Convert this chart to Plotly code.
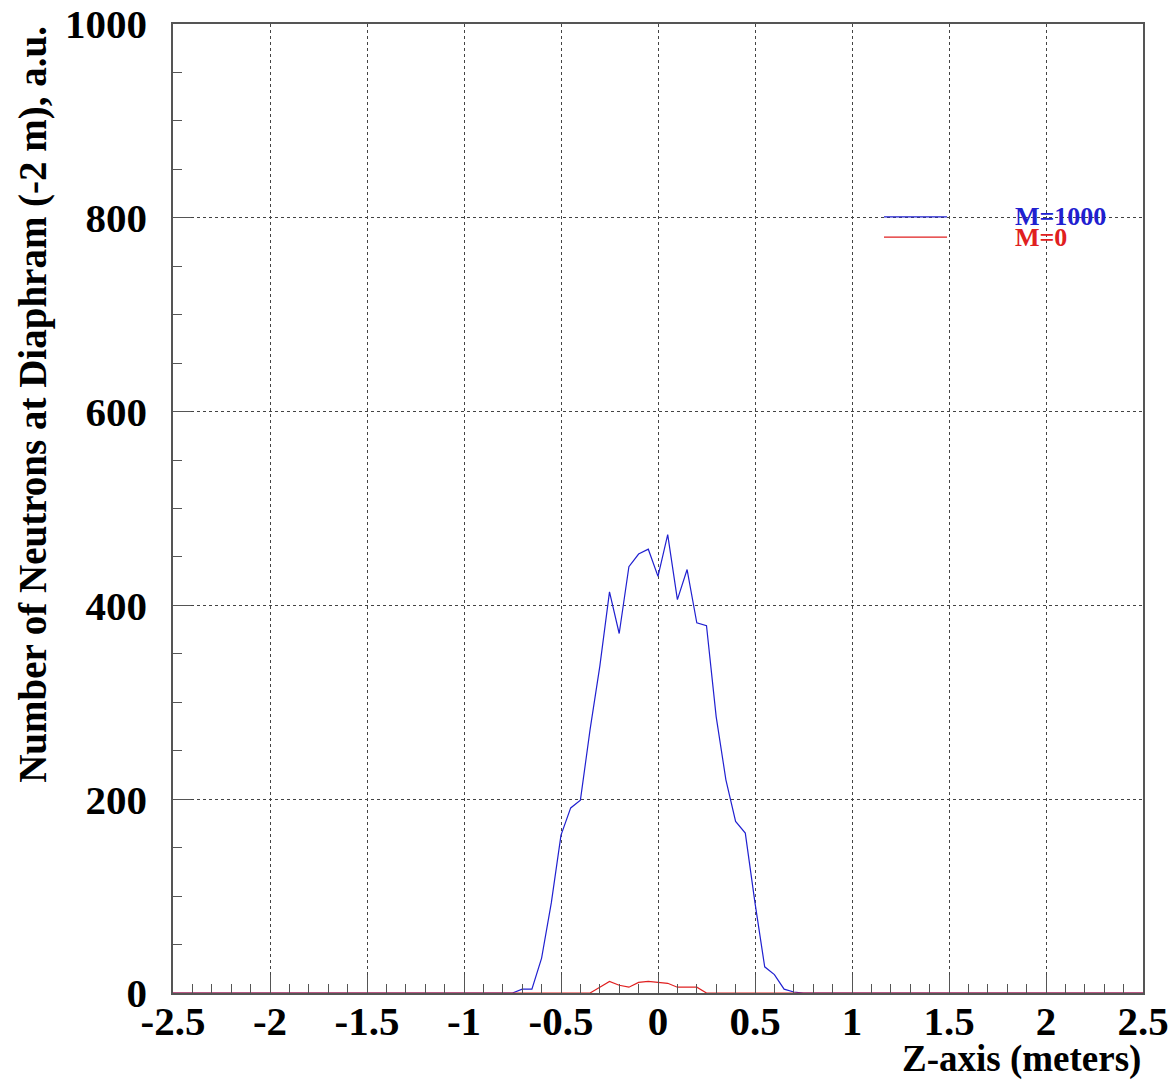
import plotly.graph_objects as go

# Z positions of the histogram bins (meters)
z_m1000 = [-2.5, -0.75, -0.70, -0.65, -0.60, -0.55, -0.50, -0.45, -0.40, -0.35,
           -0.30, -0.25, -0.20, -0.15, -0.10, -0.05, 0.00, 0.05, 0.10, 0.15,
           0.20, 0.25, 0.30, 0.35, 0.40, 0.45, 0.50, 0.55, 0.60, 0.65, 0.70,
           0.75, 2.5]
n_m1000 = [0, 0, 4, 4, 36, 93, 163, 191, 199, 272,
           337, 414, 371, 440, 453, 458, 430, 473, 406, 437,
           382, 379, 285, 220, 177, 165, 93, 27, 19, 4, 1,
           0, 0]

z_m0 = [-2.5, -0.35, -0.30, -0.25, -0.20, -0.15, -0.10, -0.05, 0.00, 0.05,
        0.10, 0.15, 0.20, 0.25, 2.5]
n_m0 = [0, 0, 6, 12, 8, 6, 11, 12, 11, 10,
        6, 6, 6, 0, 0]

x_ticks = [-2.5, -2, -1.5, -1, -0.5, 0, 0.5, 1, 1.5, 2, 2.5]
x_ticktext = ["-2.5", "-2", "-1.5", "-1", "-0.5", "0", "0.5", "1", "1.5", "2", "2.5"]
y_ticks = [0, 200, 400, 600, 800, 1000]
y_ticktext = ["0", "200", "400", "600", "800", "1000"]

SERIF = "Liberation Serif"
BLUE = "#2020d0"
RED = "#e02020"

fig = go.Figure()
fig.add_trace(go.Scatter(x=z_m1000, y=n_m1000, mode="lines",
                         line=dict(color=BLUE, width=1.2), name="M=1000"))
fig.add_trace(go.Scatter(x=z_m0, y=n_m0, mode="lines",
                         line=dict(color=RED, width=1.2), name="M=0"))

axis_common = dict(
    showline=True, linecolor="#555555", linewidth=1.5, mirror=True,
    showgrid=True, gridcolor="#444444", griddash="dot", gridwidth=1,
    zeroline=False, ticks="inside", ticklen=18, tickwidth=1.2, tickcolor="#555555",
    tickfont=dict(family=SERIF, size=41, color="black", weight="bold"),
)

fig.update_xaxes(range=[-2.5, 2.5], tickvals=x_ticks, ticktext=x_ticktext,
                 minor=dict(ticks="inside", ticklen=9, dtick=0.1, tickwidth=1.2,
                            tickcolor="#555555", showgrid=False),
                 ticklabelstandoff=-9, **axis_common)
fig.update_yaxes(range=[0, 1000], tickvals=y_ticks, ticktext=y_ticktext,
                 minor=dict(ticks="inside", ticklen=9, dtick=50, tickwidth=1.2,
                            tickcolor="#555555", showgrid=False),
                 ticklabelstandoff=16, **axis_common)

# Legend drawn as short line samples with coloured labels
legend_items = [("M=1000", BLUE, 0.801), ("M=0", RED, 0.780)]
shapes = []
annotations = []
for label, color, ypos in legend_items:
    shapes.append(dict(type="line", xref="paper", yref="paper",
                       x0=0.733, x1=0.798, y0=ypos, y1=ypos,
                       line=dict(color=color, width=1.2)))
    annotations.append(dict(text=label, xref="paper", yref="paper",
                            x=0.866, y=ypos, xanchor="left", yanchor="middle",
                            showarrow=False,
                            font=dict(family=SERIF, size=26, color=color, weight="bold")))

# Axis titles, right / top aligned
annotations.append(dict(text="Z-axis (meters)", xref="paper", yref="paper",
                        x=1.0, y=-0.068, xanchor="right", yanchor="middle",
                        showarrow=False,
                        font=dict(family=SERIF, size=37, color="black", weight="bold")))
annotations.append(dict(text="Number of Neutrons at Diaphram (-2 m), a.u.",
                        xref="paper", yref="paper", textangle=-90,
                        x=-0.145, y=1.0, xanchor="center", yanchor="top",
                        showarrow=False,
                        font=dict(family=SERIF, size=39, color="black", weight="bold")))

fig.update_layout(
    width=1176, height=1080,
    margin=dict(l=173, r=33, t=24, b=87, autoexpand=False),
    paper_bgcolor="white", plot_bgcolor="white",
    showlegend=False, shapes=shapes, annotations=annotations,
)

fig.write_html("out.html")
